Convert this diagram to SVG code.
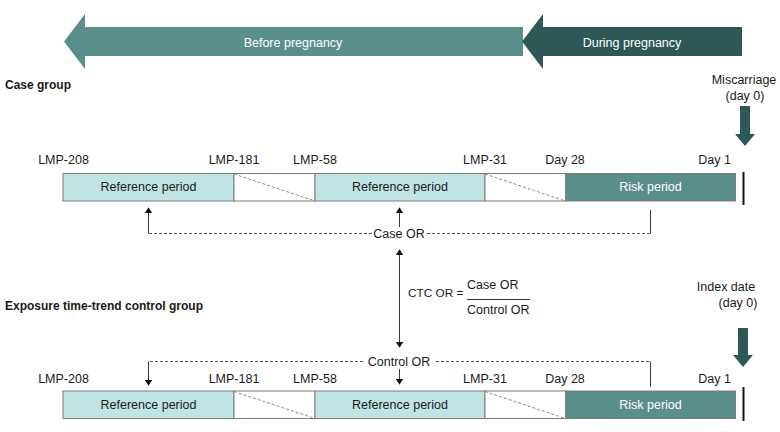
<svg xmlns="http://www.w3.org/2000/svg" width="780" height="432" viewBox="0 0 780 432">
<style>
text{font-family:"Liberation Sans",Arial,sans-serif;font-size:12.5px;fill:#1a1a1a}
.w{fill:#fff}
.b{font-weight:bold;font-size:12px}
.m{text-anchor:middle}
.e{text-anchor:end}
.ref{fill:#bfe4e3;stroke:#7d7d7d;stroke-width:1}
.gap{fill:#fff;stroke:#7d7d7d;stroke-width:1}
.risk{fill:#5a8e8b;stroke:#7d7d7d;stroke-width:1}
.diag{stroke:#888;stroke-width:1;stroke-dasharray:3 2;fill:none}
.dash{stroke:#444;stroke-width:0.9;stroke-dasharray:3 2;fill:none}
.sol{stroke:#222;stroke-width:0.9;fill:none}
.ah{fill:#111}
.day0{stroke:#111;stroke-width:2}
.dark{fill:#2d5856}
</style>
<defs>
<marker id="arr" viewBox="0 0 8 10" refX="7" refY="5" markerWidth="6" markerHeight="7.5" orient="auto" markerUnits="userSpaceOnUse">
<path d="M0,0 L8,5 L0,10 Z" class="ah"/>
</marker>
</defs>

<g id="before-pregnancy">
<polygon points="64,41.5 85,14 85,27 523,27 523,56 85,56 85,69" fill="#5a8e8b"/>
<text x="293" y="46.5" class="m w">Before pregnancy</text>
</g>
<g id="during-pregnancy">
<polygon points="522,41.5 543,14 543,27 742,27 742,56 543,56 543,69" fill="#2d5856"/>
<text x="632" y="46.5" class="m w">During pregnancy</text>
</g>

<g id="case-group-label"><text x="5" y="89" class="b">Case group</text></g>
<g id="miscarriage">
<text x="744" y="84" class="m">Miscarriage</text>
<text x="745" y="100" class="m">(day 0)</text>
<polygon points="740,106 750,106 750,134 755,134 745,146 735,134 740,134" class="dark"/>
</g>

<g id="case-timeline">
<rect x="63" y="173.5" width="171" height="27.5" class="ref"/>
<rect x="234" y="173.5" width="81" height="27.5" class="gap"/>
<line x1="234" y1="174" x2="315" y2="201" class="diag"/>
<rect x="315" y="173.5" width="170" height="27.5" class="ref"/>
<rect x="485" y="173.5" width="80.5" height="27.5" class="gap"/>
<line x1="485" y1="174" x2="565.5" y2="201" class="diag"/>
<rect x="565.5" y="173.5" width="170" height="27.5" class="risk"/>
<text x="148.5" y="191" class="m">Reference period</text>
<text x="400" y="191" class="m">Reference period</text>
<text x="650.5" y="191" class="m w">Risk period</text>
<text x="63.5" y="164" class="m">LMP-208</text>
<text x="234" y="164" class="m">LMP-181</text>
<text x="315" y="164" class="m">LMP-58</text>
<text x="485" y="164" class="m">LMP-31</text>
<text x="565" y="164" class="m">Day 28</text>
<text x="731" y="164" class="e">Day 1</text>
<line x1="743.5" y1="172" x2="743.5" y2="205" class="day0"/>
</g>

<g id="control-group-label"><text x="5" y="310" class="b">Exposure time-trend control group</text></g>
<g id="index-date">
<text x="726" y="291" class="m">Index date</text>
<text x="738" y="307" class="m">(day 0)</text>
<polygon points="738,328 748,328 748,355 753,355 743,367 733,355 738,355" class="dark"/>
</g>

<g id="control-timeline">
<rect x="63" y="391" width="171" height="27.5" class="ref"/>
<rect x="234" y="391" width="81" height="27.5" class="gap"/>
<line x1="234" y1="391.5" x2="315" y2="418.5" class="diag"/>
<rect x="315" y="391" width="170" height="27.5" class="ref"/>
<rect x="485" y="391" width="80.5" height="27.5" class="gap"/>
<line x1="485" y1="391.5" x2="565.5" y2="418.5" class="diag"/>
<rect x="565.5" y="391" width="170" height="27.5" class="risk"/>
<text x="148.5" y="409" class="m">Reference period</text>
<text x="400" y="409" class="m">Reference period</text>
<text x="650.5" y="409" class="m w">Risk period</text>
<text x="63.5" y="383" class="m">LMP-208</text>
<text x="234" y="383" class="m">LMP-181</text>
<text x="315" y="383" class="m">LMP-58</text>
<text x="485" y="383" class="m">LMP-31</text>
<text x="565" y="383" class="m">Day 28</text>
<text x="731" y="383" class="e">Day 1</text>
<line x1="743.5" y1="387" x2="743.5" y2="421" class="day0"/>
</g>

<g id="case-or">
<text x="399" y="237.5" class="m">Case OR</text>
</g>
<g id="control-or">
<text x="399" y="365.5" class="m">Control OR</text>
</g>
<g id="ctc-or">
<text x="408" y="297" style="font-size:11.8px">CTC OR =</text>
<text x="467" y="289">Case OR</text>
<line x1="467" y1="299.5" x2="530" y2="299.5" stroke="#222" stroke-width="0.9"/>
<text x="467" y="314">Control OR</text>
</g>

<g id="connectors">
<path d="M372,233.5 H148.5" class="dash"/>
<line x1="148.5" y1="233.5" x2="148.5" y2="208" class="sol" marker-end="url(#arr)"/>
<path d="M427,233.5 H650.5" class="dash"/>
<line x1="650.5" y1="233.5" x2="650.5" y2="210" class="sol"/>
<line x1="399.5" y1="227" x2="399.5" y2="208" class="sol" marker-end="url(#arr)"/>
<line x1="399.5" y1="298" x2="399.5" y2="250" class="sol" marker-end="url(#arr)"/>
<line x1="399.5" y1="298" x2="399.5" y2="347" class="sol" marker-end="url(#arr)"/>
<path d="M363,361.5 H148.5" class="dash"/>
<line x1="148.5" y1="361.5" x2="148.5" y2="385" class="sol" marker-end="url(#arr)"/>
<path d="M436,361.5 H650.5" class="dash"/>
<line x1="650.5" y1="361.5" x2="650.5" y2="387" class="sol"/>
<line x1="399.5" y1="369" x2="399.5" y2="384" class="sol" marker-end="url(#arr)"/>
</g>
</svg>
